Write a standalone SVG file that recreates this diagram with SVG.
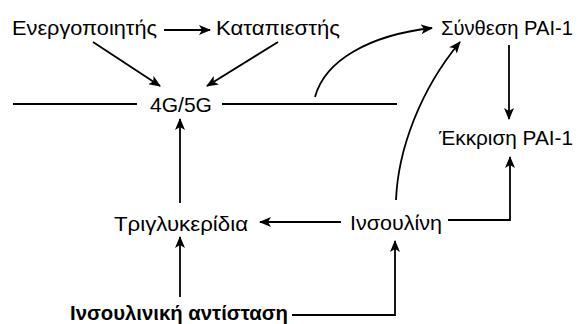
<svg xmlns="http://www.w3.org/2000/svg" width="580" height="324" viewBox="0 0 580 324">
<defs>
<style>
text{font-family:"Liberation Sans",Arial,sans-serif;font-size:21px;fill:#000}
.b{font-weight:bold;font-size:20px}
.c{fill:none;stroke:#000;stroke-width:1.8}
</style>
<marker id="ah" markerWidth="12" markerHeight="10" refX="11" refY="5" orient="auto" markerUnits="userSpaceOnUse">
<path d="M0,0 L12,5 L0,10 L3,5 z" fill="#000"/>
</marker>
</defs>
<rect width="580" height="324" fill="#fff"/>
<g id="connectors">
<path class="c" d="M164,30 H210" marker-end="url(#ah)"/>
<path class="c" d="M93,42 L160,86" marker-end="url(#ah)"/>
<path class="c" d="M278,42 L207,86" marker-end="url(#ah)"/>
<path class="c" d="M13,104 H137"/>
<path class="c" d="M222,104 H397"/>
<path class="c" d="M315,97 C325,60 370,35 432,28" marker-end="url(#ah)"/>
<path class="c" d="M509,45 V119" marker-end="url(#ah)"/>
<path class="c" d="M396,200 C398,150 420,90 460,42" marker-end="url(#ah)"/>
<path class="c" d="M448,220 H510 V157" marker-end="url(#ah)"/>
<path class="c" d="M341,222 H260" marker-end="url(#ah)"/>
<path class="c" d="M180,203 V119" marker-end="url(#ah)"/>
<path class="c" d="M180,297 V237" marker-end="url(#ah)"/>
<path class="c" d="M292,315 H395 V241" marker-end="url(#ah)"/>
</g>
<g id="n_energ"><text x="12" y="35" textLength="145" lengthAdjust="spacingAndGlyphs">Ενεργοποιητής</text></g>
<g id="n_katap"><text x="216" y="35" textLength="124" lengthAdjust="spacingAndGlyphs">Καταπιεστής</text></g>
<g id="n_synth"><text x="441" y="35" textLength="132" lengthAdjust="spacingAndGlyphs">Σύνθεση PAI-1</text></g>
<g id="n_4g5g"><text x="150" y="112" textLength="62" lengthAdjust="spacingAndGlyphs">4G/5G</text></g>
<g id="n_ekkr"><text x="439" y="145" textLength="134" lengthAdjust="spacingAndGlyphs">Έκκριση PAI-1</text></g>
<g id="n_trig"><text x="114" y="231" textLength="134" lengthAdjust="spacingAndGlyphs">Τριγλυκερίδια</text></g>
<g id="n_insul"><text x="350" y="230" textLength="92" lengthAdjust="spacingAndGlyphs">Ινσουλίνη</text></g>
<g id="n_antist"><text class="b" x="70" y="320" textLength="218" lengthAdjust="spacingAndGlyphs">Ινσουλινική αντίσταση</text></g>
</svg>
